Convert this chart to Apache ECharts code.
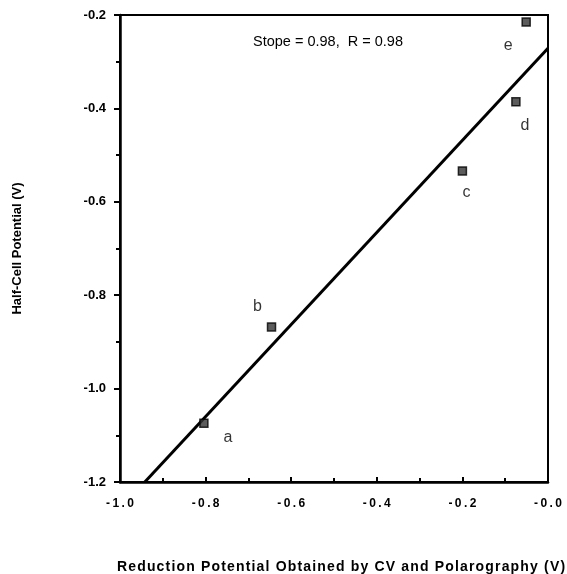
<!DOCTYPE html>
<html>
<head>
<meta charset="utf-8">
<script src="https://cdn.jsdelivr.net/npm/echarts@6/dist/echarts.min.js"></script>
<style>
  html, body { margin: 0; padding: 0; background: #fff; }
  #chart { width: 567px; height: 574px; }
</style>
</head>
<body>
<div id="chart"></div>
<script>
// Measured compounds: CV/polarography reduction potential vs half-cell potential
const pointNames = ['a', 'b', 'c', 'd', 'e'];
const reductionPotential = [-0.804, -0.646, -0.200, -0.075, -0.051];
const halfCellPotential = [-1.074, -0.868, -0.534, -0.386, -0.215];

// Linear fit endpoints (x, y)
const fitX = [-0.942, 0.0];
const fitY = [-1.2, -0.271];

const fitText = 'Stope = 0.98,  R = 0.98';

// label placement around each marker (pixels)
const labelOffset = {
  a: [24, 14], b: [-14, -20], c: [4, 22], d: [9, 24], e: [-18, 24]
};

const FONT = '"Liberation Sans", Arial, Helvetica, sans-serif';
const spaced = (s, sep) => s.split('').join(sep);

const chart = echarts.init(document.getElementById('chart'), null, { renderer: 'canvas' });

const scatterData = pointNames.map((n, i) => ({
  name: n,
  value: [reductionPotential[i], halfCellPotential[i]],
  label: {
    show: true,
    formatter: n,
    position: 'inside',
    offset: labelOffset[n],
    color: '#000',
    fontSize: 16,
    fontFamily: FONT
  }
}));

chart.setOption({
  animation: false,
  backgroundColor: '#fff',
  grid: {
    left: 120, right: 19, top: 15, bottom: 92,
    outerBoundsMode: 'none',
    containLabel: false,
    show: true, borderColor: '#000', borderWidth: 2, backgroundColor: 'transparent'
  },
  xAxis: [{
    type: 'value', min: -1.0, max: 0.0, interval: 0.2,
    name: spaced('Reduction Potential Obtained by CV and Polarography (V)', '\u200A'),
    nameLocation: 'middle', nameGap: 78,
    nameTextStyle: { fontFamily: FONT, fontWeight: 'bold', fontSize: 14, color: '#000', padding: [0, 0, 0, 14] },
    axisLine: { show: true, onZero: false, lineStyle: { color: '#000', width: 2.5 } },
    axisTick: { show: true, inside: true, length: 5, lineStyle: { color: '#000', width: 2 } },
    minorTick: { show: true, splitNumber: 2, length: 4, lineStyle: { color: '#000', width: 2 } },
    splitLine: { show: false },
    axisLabel: {
      margin: 16, color: '#000', fontFamily: FONT, fontSize: 12, fontWeight: 'bold',
      formatter: v => spaced((v <= 0 ? '-' : '') + Math.abs(v).toFixed(1), '\u2009')
    }
  }],
  yAxis: [{
    type: 'value', min: -1.2, max: -0.2, interval: 0.2,
    name: 'Half-Cell Potential (V)',
    nameLocation: 'middle', nameGap: 96, nameRotate: 90,
    nameTextStyle: { fontFamily: FONT, fontWeight: 'bold', fontSize: 13, color: '#000' },
    axisLine: { show: true, onZero: false, lineStyle: { color: '#000', width: 2.5 } },
    axisTick: { show: true, inside: false, length: 6, lineStyle: { color: '#000', width: 2 } },
    minorTick: { show: true, splitNumber: 2, length: 4, lineStyle: { color: '#000', width: 2 } },
    splitLine: { show: false },
    axisLabel: {
      margin: 14, color: '#000', fontFamily: FONT, fontSize: 13, fontWeight: 'bold',
      formatter: v => v.toFixed(1)
    }
  }],
  series: [
    {
      type: 'line',
      data: fitX.map((x, i) => [x, fitY[i]]),
      symbol: 'none',
      lineStyle: { color: '#000', width: 3 },
      z: 3
    },
    {
      type: 'scatter',
      data: scatterData,
      symbol: 'rect',
      symbolSize: 8,
      itemStyle: { color: '#333', borderColor: '#000', borderWidth: 1.5 },
      z: 4
    }
  ],
  graphic: [{
    type: 'text',
    left: 253, top: 34,
    style: { text: fitText, fontFamily: FONT, fontSize: 14.5, fill: '#000' }
  }]
});
</script>
</body>
</html>
